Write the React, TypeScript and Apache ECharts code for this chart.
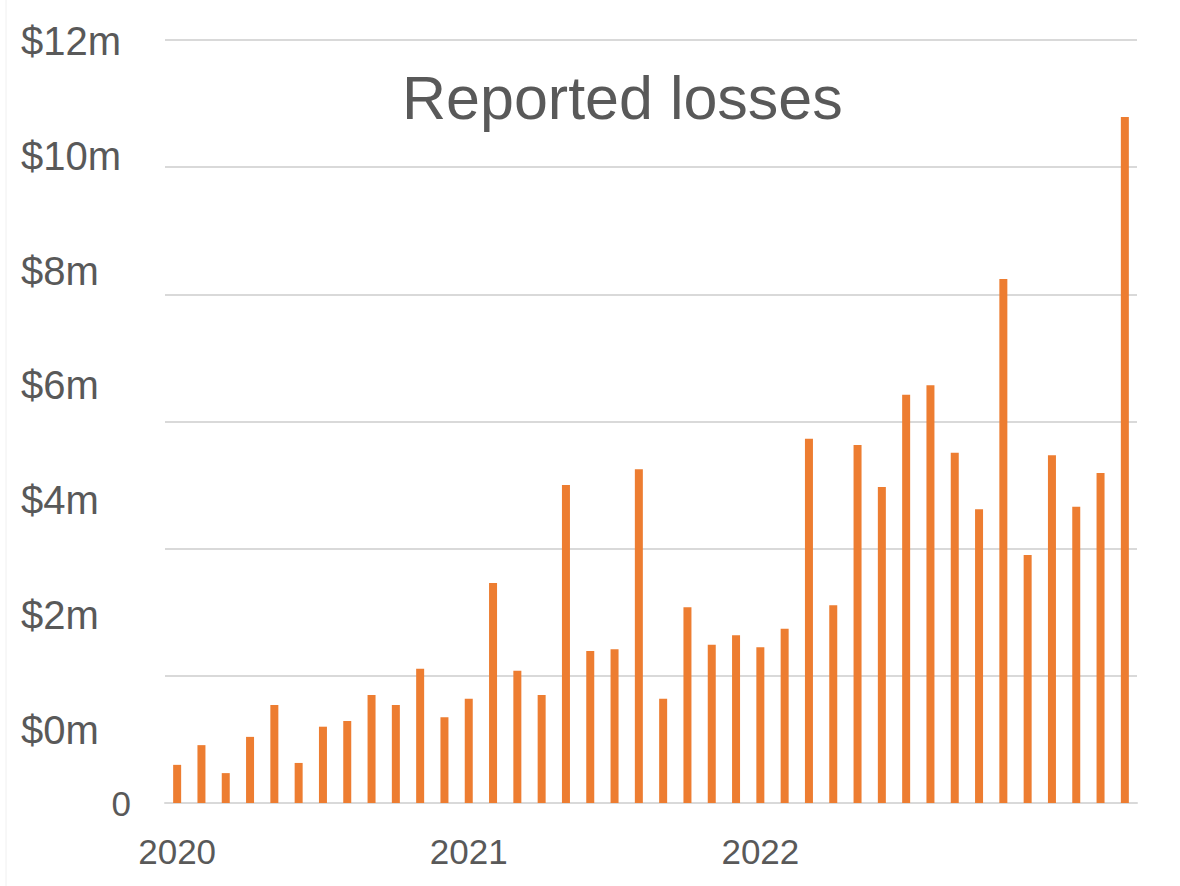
import React, { useEffect, useRef } from "react";
import * as echarts from "echarts";

const months: string[] = [
  "2020-01", "2020-02", "2020-03", "2020-04", "2020-05", "2020-06", "2020-07", "2020-08", "2020-09", "2020-10", "2020-11", "2020-12",
  "2021-01", "2021-02", "2021-03", "2021-04", "2021-05", "2021-06", "2021-07", "2021-08", "2021-09", "2021-10", "2021-11", "2021-12",
  "2022-01", "2022-02", "2022-03", "2022-04", "2022-05", "2022-06", "2022-07", "2022-08", "2022-09", "2022-10", "2022-11", "2022-12",
  "2023-01", "2023-02", "2023-03", "2023-04",
];

// Reported losses in $m
const losses: number[] = [
  0.60, 0.91, 0.47, 1.04, 1.54, 0.63, 1.20, 1.29, 1.70, 1.54, 2.11, 1.35,
  1.64, 3.46, 2.08, 1.70, 5.00, 2.39, 2.42, 5.25, 1.64, 3.08, 2.49, 2.64,
  2.45, 2.74, 5.73, 3.11, 5.63, 4.97, 6.42, 6.57, 5.51, 4.62, 8.24, 3.90,
  5.47, 4.66, 5.19, 10.79,
];

const labeledMonths: string[] = ["2020-01", "2021-01", "2022-01"];
const gridValues: number[] = [0, 2, 4, 6, 8, 10, 12];
const dollarLabelValues: number[] = [0, 2, 4, 6, 8, 10, 12];
const zeroLabelValues: number[] = [0];

const FONT = "'Liberation Sans', Arial, sans-serif";
const TEXT = "#595959";
const GRID = "#D9D9D9";
const BAR = "#ED7D31";

export default function App() {
  const ref = useRef<HTMLDivElement>(null);
  useEffect(() => {
    document.body.style.margin = "0";
    if (!ref.current) return;
    const chart = echarts.init(ref.current, undefined, { renderer: "svg" });
    chart.setOption({
      animation: false,
      backgroundColor: "#ffffff",
      title: {
        text: "Reported losses",
        left: 397,
        top: 62,
        textStyle: { fontSize: 61, fontWeight: "normal", color: TEXT, fontFamily: FONT },
      },
      graphic: [
        { type: "line", shape: { x1: 6, y1: 0, x2: 6, y2: 886 }, style: { stroke: "#f0f0f0", lineWidth: 1 } },
      ],
      grid: { left: 165, right: 43, top: 40, bottom: 83, containLabel: false, outerBoundsMode: "none" },
      xAxis: {
        type: "category",
        data: months,
        axisTick: { show: false },
        axisLine: { lineStyle: { color: GRID, width: 2 } },
        axisLabel: {
          interval: (_i: number, v: string) => labeledMonths.includes(v),
          formatter: (v: string) => v.slice(0, 4),
          fontSize: 35,
          color: TEXT,
          fontFamily: FONT,
          margin: 31,
        },
      },
      yAxis: [
        {
          type: "value",
          min: gridValues[0],
          max: gridValues[gridValues.length - 1],
          interval: 2,
          axisLine: { show: false },
          axisTick: { show: false },
          splitLine: { lineStyle: { color: GRID, width: 2 } },
          axisLabel: {
            customValues: zeroLabelValues,
            formatter: (v: number) => String(v),
            fontSize: 35,
            color: TEXT,
            fontFamily: FONT,
            margin: 34,
          },
        },
        {
          type: "value",
          position: "left",
          min: -1.271,
          max: 12.017,
          axisLine: { show: false },
          axisTick: { show: false },
          splitLine: { show: false },
          axisLabel: {
            customValues: dollarLabelValues,
            formatter: (v: number) => `$${v}m`,
            align: "left",
            fontSize: 40,
            color: TEXT,
            fontFamily: FONT,
            margin: 144,
          },
        },
      ],
      series: [
        {
          type: "bar",
          data: losses,
          barWidth: 8,
          itemStyle: { color: BAR },
          yAxisIndex: 0,
        },
      ],
    });
    return () => chart.dispose();
  }, []);
  return <div ref={ref} style={{ width: 1180, height: 886 }} />;
}
